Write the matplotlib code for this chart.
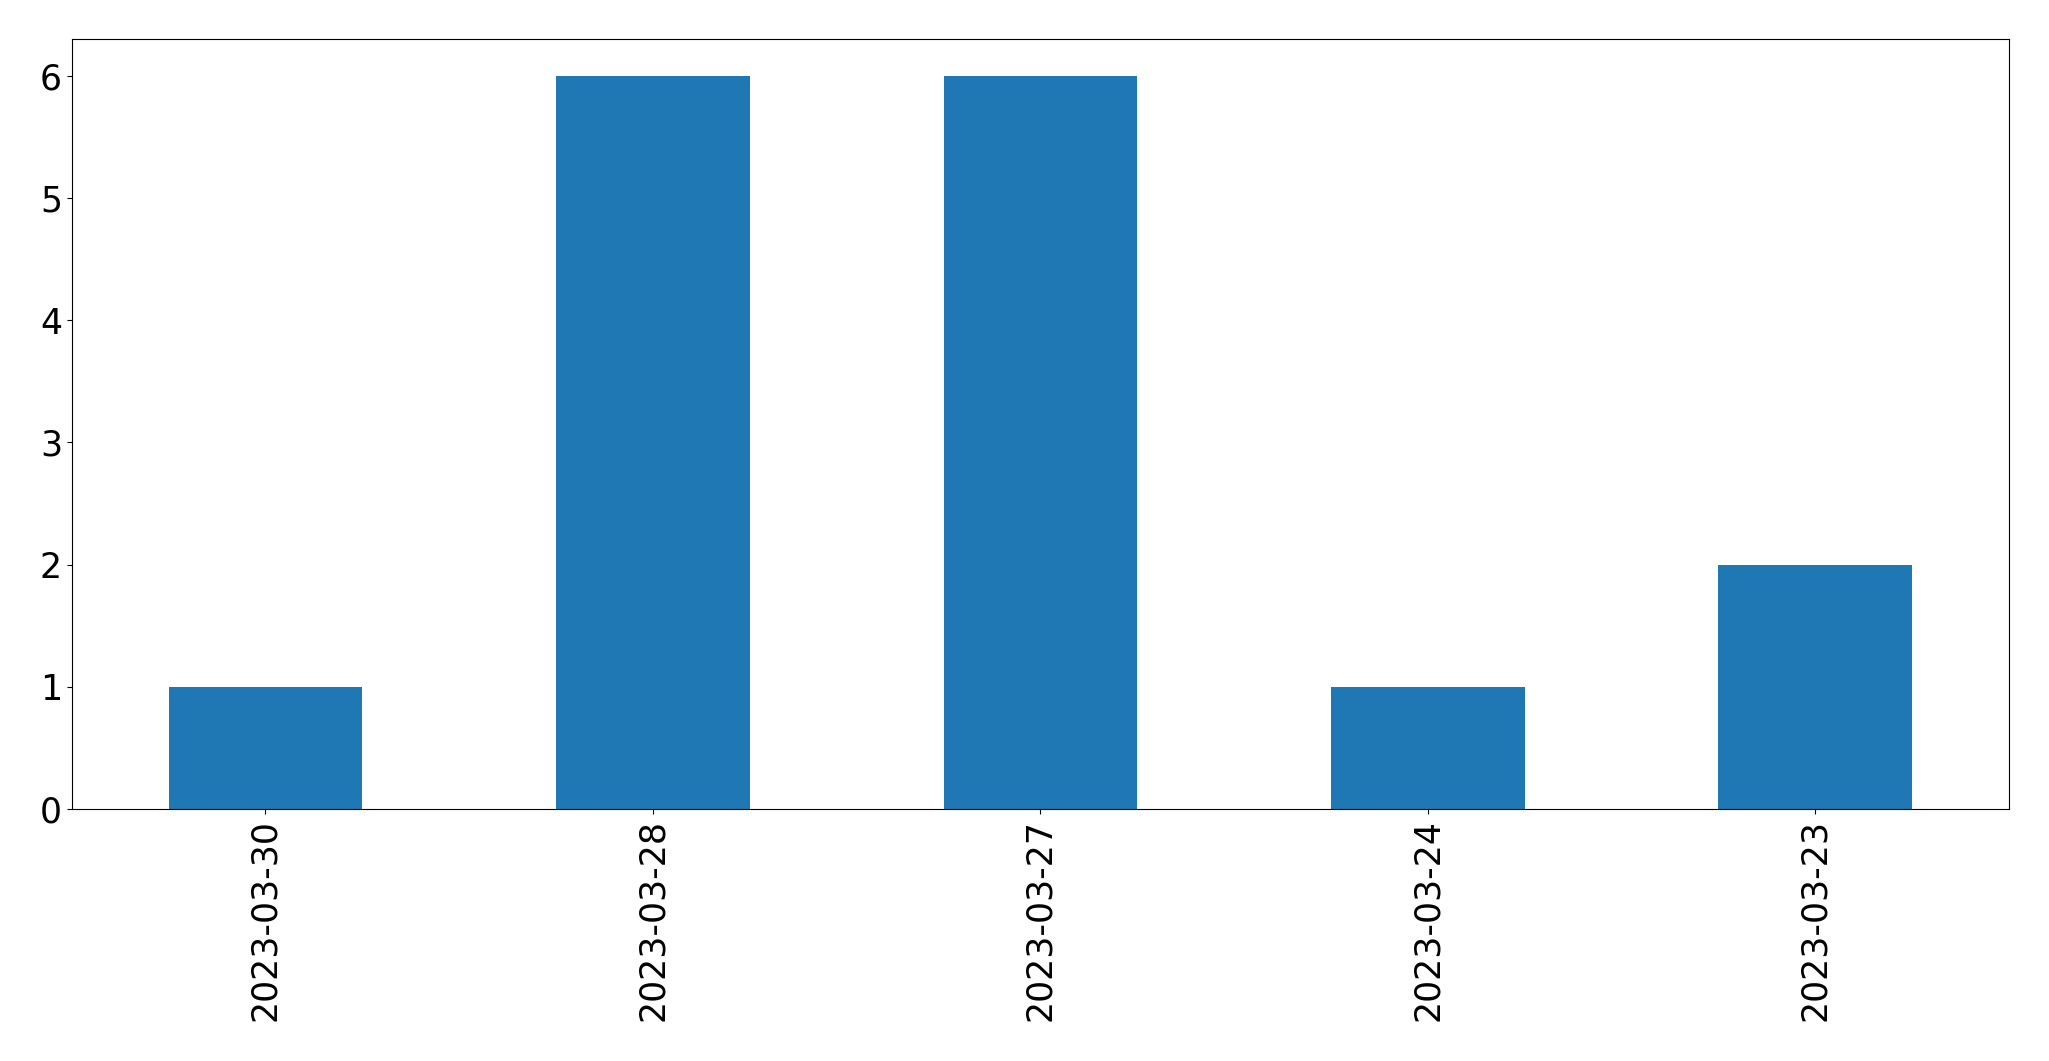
import pandas as pd
import matplotlib
matplotlib.use('Agg')
import matplotlib.pyplot as plt

# counts per date
dates = ['2023-03-30', '2023-03-28', '2023-03-27', '2023-03-24', '2023-03-23']
counts = [1, 6, 6, 1, 2]

series = pd.Series(counts, index=dates)

fig, ax = plt.subplots(figsize=(20.49, 10.61), dpi=100)
series.plot(kind='bar', ax=ax, color='#1f77b4')
ax.tick_params(axis='both', labelsize=25)
fig.subplots_adjust(left=0.035, right=0.9805, top=0.963, bottom=0.2375)

fig.savefig('out.png', dpi=100)
